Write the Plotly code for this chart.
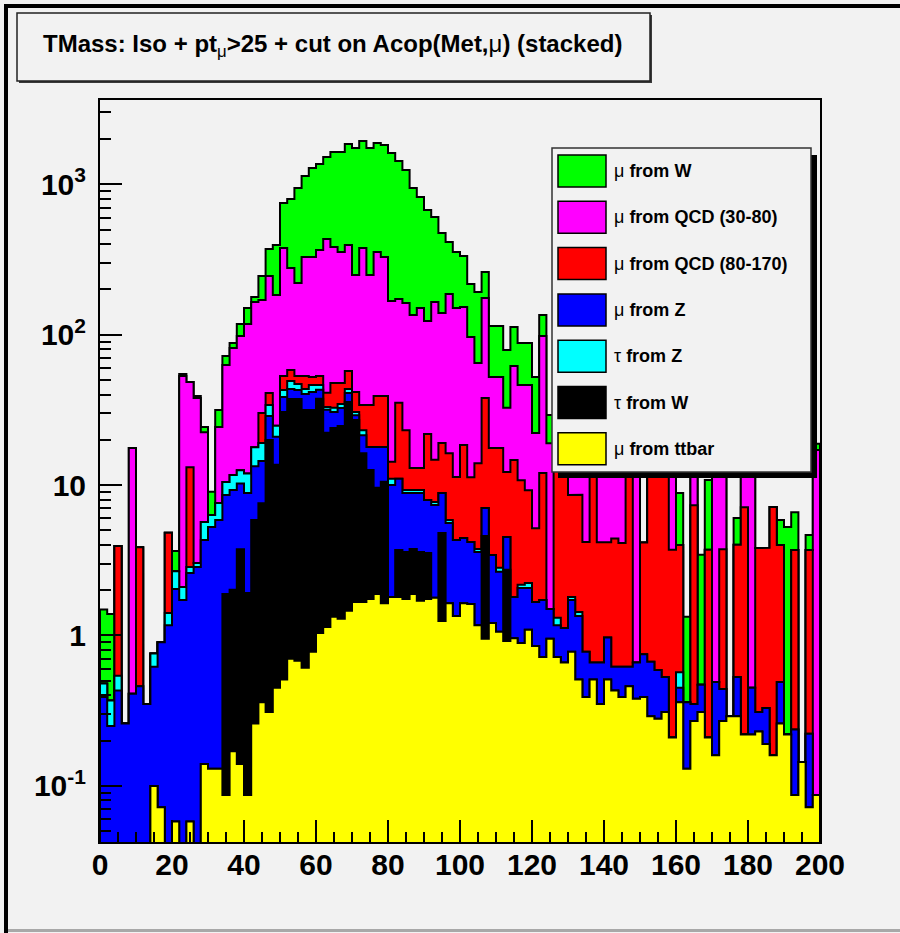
import numpy as np
import plotly.graph_objects as go

# ---------------------------------------------------------------------------
# Transverse mass histograms, 100 bins of width 2 between 0 and 200
# ---------------------------------------------------------------------------
bin_edges = np.arange(0, 202, 2)

mu_from_ttbar = [
    0, 0, 0, 0, 0, 0, 0, 0.10, 0.072, 0,
    0.058, 0, 0.058, 0, 0.14, 0.13, 0.13, 0.087, 0.17, 0.14,
    0.087, 0.26, 0.36, 0.31, 0.45, 0.51, 0.70, 0.68, 0.61, 0.78,
    1.04, 1.14, 1.33, 1.29, 1.46, 1.67, 1.67, 1.75, 1.89, 1.64,
    1.80, 1.80, 1.75, 1.89, 1.70, 1.75, 1.78, 1.25, 1.64, 1.35,
    1.64, 1.62, 1.17, 0.95, 1.21, 1.06, 0.92, 0.96, 0.89, 1.09,
    0.85, 0.72, 0.95, 0.72, 0.66, 0.78, 0.51, 0.39, 0.51, 0.35,
    0.51, 0.43, 0.39, 0.46, 0.38, 0.39, 0.29, 0.28, 0.31, 0.21,
    0.36, 0.13, 0.27, 0.31, 0.21, 0.16, 0.27, 0.29, 0.29, 0.22,
    0.22, 0.23, 0.19, 0.16, 0.26, 0.22, 0.087, 0.144, 0.072, 0.087,
]
tau_from_w = [
    0, 0, 0, 0, 0, 0, 0, 0, 0, 0,
    0, 0, 0, 0, 0, 0, 0, 1.80, 1.84, 3.6,
    1.83, 5.6, 7.2, 19.6, 13.2, 30.1, 36.7, 36.7, 31.0, 30.8,
    36.4, 21.1, 22.6, 23.4, 34.2, 25.4, 14.6, 10.85, 7.7, 8.9,
    0, 1.9, 1.84, 1.87, 1.89, 1.79, 0, 3.55, 0, 0,
    0, 0, 0, 3.64, 0, 0, 1.81, 0, 0, 0,
    0, 0, 0, 0, 0, 0, 0, 0, 0, 0,
    0, 0, 0, 0, 0, 0, 0, 0, 0, 0,
    0, 0, 0, 0, 0, 0, 0, 0, 0, 0,
    0, 0, 0, 0, 0, 0, 0, 0, 0, 0,
]
mu_from_z = [
    0.39, 0.25, 0.43, 0.26, 0.41, 0.46, 0.35, 0.52, 0.83, 1.17,
    1.98, 1.72, 2.54, 2.85, 4.17, 5.14, 5.73, 6.7, 7.26, 6.5,
    6.94, 7.5, 6.9, 8.9, 7.3, 7.9, 6.1, 5.5, 8.7, 10.0,
    5.5, 9.4, 6.7, 7.9, 5.3, 2.1, 5.2, 5.3, 8.3, 7.4,
    8.2, 7.3, 5.27, 5.1, 5.27, 4.42, 5.6, 4.06, 3.96, 2.96,
    2.81, 2.57, 2.42, 2.45, 2.22, 1.59, 1.79, 0.84, 1.18, 0.98,
    0.82, 1.0, 0.55, 0.45, 0.46, 0.94, 0.84, 0.39, 0.15, 0.31,
    0.46, 0.19, 0.23, 0.16, 0.28, 0.36, 0.38, 0.31, 0.22, 0,
    0.09, 0.23, 0.08, 0.16, 0, 0.33, 0.17, 0, 0.24, 0,
    0.23, 0.08, 0.14, 0, 0.23, 0, 0.15, 0, 0.15, 0,
]
tau_from_z = [
    0.09, 0.12, 0.11, 0, 0, 0, 0, 0.14, 0, 0.24,
    0.64, 0.38, 0.25, 0.18, 1.37, 1.06, 1.74, 1.9, 2.4, 2.3,
    3.1, 4.5, 4.6, 5.3, 3.8, 4.4, 5.7, 4.1, 3.2, 4.7,
    3.4, 1.4, 2.0, 2.0, 2.5, 1.4, 1.7, 0, 0, 0,
    1.0, 0, 0.41, 0.41, 0.41, 0, 0.34, 0, 0.26, 0,
    0, 0, 0.17, 0, 0, 0.17, 0, 0, 0.10, 0.16,
    0, 0, 0, 0.14, 0, 0.08, 0.08, 0, 0, 0,
    0, 0, 0, 0, 0, 0, 0, 0, 0, 0,
    0.12, 0, 0, 0, 0, 0, 0, 0, 0, 0,
    0, 0, 0, 0, 0, 0, 0, 0, 0, 0,
]
mu_from_qcd_80_170 = [
    0, 0, 3.4, 0, 0, 3.4, 0, 0, 0, 3.4,
    0, 0, 10.3, 0, 0, 0, 0, 0, 0, 0,
    0, 0, 11.1, 6.9, 0, 10.2, 9.0, 6.1, 9.6, 6.0,
    6.8, 8.0, 15.1, 13.1, 13.9, 11.0, 10.9, 16.2, 21.2, 21.2,
    3.3, 24.2, 13.9, 3.7, 3.7, 13.9, 7.0, 10.2, 10.4, 7.0,
    14.05, 7.1, 10.2, 30.9, 14.2, 14.8, 7.7, 12.9, 8.6, 7.0,
    3.5, 10.3, 0, 13.4, 14.7, 6.8, 7.2, 3.4, 12.9, 3.5,
    3.2, 3.8, 3.5, 12.0, 0, 3.4, 11.9, 12.0, 12.1, 3.5,
    3.43, 0, 7.0, 0, 3.5, 0, 3.3, 0, 3.48, 6.9,
    0, 3.5, 3.5, 7.0, 3.5, 0, 3.47, 0, 3.48, 0,
]
mu_from_qcd_30_80 = [
    0, 0, 0, 0, 17.2, 0, 0, 0, 0, 0,
    0, 51.0, 35.3, 34.9, 16.8, 0, 16.7, 52.4, 69.9, 85.4,
    105.8, 147.0, 140.0, 204.5, 159.0, 324.0, 219.0, 167.5, 275.0, 276.0,
    312.5, 391.7, 335.0, 307.0, 337.0, 208.0, 343.0, 215.4, 315.7, 289.4,
    153.0, 137.6, 139.3, 122.2, 137.5, 101.4, 150.2, 120.4, 170.2, 139.2,
    134.3, 85.2, 50.9, 137.5, 34.7, 34.7, 20.4, 47.2, 35.5, 37.0,
    17.0, 86.0, 17.5, 12.4, 13.4, 18.5, 14.6, 15.8, 1.1, 15.8,
    13.0, 12.6, 11.7, 1.0, 19.3, 0, 2.1, 1.0, 1.0, 11.0,
    0, 0, 7.3, 0, 0, 14.2, 11.0, 0, 0, 7.6,
    14.3, 0, 0, 0, 0, 0, 0, 0, 0, 17.0,
]
mu_from_w = [
    1.01, 1.02, 0, 0, 0, 0, 0, 0, 0, 0,
    0.97, 1.7, 0, 1.2, 1.8, 2.7, 7.3, 9.3, 6.5, 19.8,
    32.7, 13.2, 75.0, 126.0, 211.0, 374.0, 521.0, 723.0, 807.0, 955.0,
    999.0, 1085.0, 1258.0, 1286.0, 1459.0, 1492.0, 1564.0, 1492.0, 1527.0, 1495.0,
    1448.0, 1256.0, 1082.0, 809.0, 673.0, 552.0, 441.0, 335.0, 226.5, 204.0,
    180.8, 120.8, 127.4, 85.8, 61.9, 61.9, 46.5, 50.6, 41.8, 41.8,
    30.1, 37.2, 10.2, 12.6, 17.1, 22.9, 19.7, 16.8, 16.9, 16.9,
    14.5, 10.0, 11.3, 9.6, 7.2, 0, 5.25, 6.35, 4.9, 3.8,
    4.86, 0.97, 2.4, 2.97, 7.1, 2.4, 2.4, 0, 2.04, 2.4,
    2.4, 0, 0, 0, 1.86, 5.05, 2.9, 0, 0.96, 1.7,
]

# stack order from the bottom up: (label, contents, fill colour)
stack_bottom_up = [
    ("μ from ttbar", mu_from_ttbar, "#ffff00"),
    ("τ from W", tau_from_w, "#000000"),
    ("μ from Z", mu_from_z, "#0000ff"),
    ("τ from Z", tau_from_z, "#00ffff"),
    ("μ from QCD (80-170)", mu_from_qcd_80_170, "#ff0000"),
    ("μ from QCD (30-80)", mu_from_qcd_30_80, "#ff00ff"),
    ("μ from W", mu_from_w, "#00ff00"),
]
# legend listing, top to bottom
legend_order = ["μ from W", "μ from QCD (30-80)", "μ from QCD (80-170)",
                "μ from Z", "τ from Z", "τ from W", "μ from ttbar"]

BG = "#f2f2f2"
FONT = "Liberation Sans"
FLOOR = 1e-4          # empty bins drop below the visible range of the log axis

cumulative = np.cumsum(np.array([s[1] for s in stack_bottom_up], dtype=float), axis=0)


def step_outline(values):
    """Closed polygon of a histogram drawn as a filled step curve."""
    xs, ys = [bin_edges[0]], [FLOOR]
    for i, v in enumerate(values):
        h = v if v > 0 else FLOOR
        xs += [bin_edges[i], bin_edges[i + 1]]
        ys += [h, h]
    xs.append(bin_edges[-1])
    ys.append(FLOOR)
    return xs, ys


fig = go.Figure()
# THStack style: the running sums are painted from the total downwards
for k in reversed(range(len(stack_bottom_up))):
    name, _, colour = stack_bottom_up[k]
    xs, ys = step_outline(cumulative[k])
    fig.add_trace(go.Scatter(
        x=xs, y=ys, mode="lines", fill="toself", fillcolor=colour,
        line=dict(color="black", width=2), name=name, hoverinfo="skip",
    ))

# ---------------------------------------------------------------------------
# Canvas geometry
# ---------------------------------------------------------------------------
W, H = 900, 933
ML, MR, MT, MB = 100, 80, 100, 91


def px(x):
    return (x - ML) / (W - ML - MR)


def py(y):
    return (H - MB - y) / (H - MT - MB)


def rect(x0, y0, x1, y1, fill, line_color=None, line_width=0):
    return dict(type="rect", xref="paper", yref="paper",
                x0=px(x0), x1=px(x1), y0=py(y1), y1=py(y0),
                fillcolor=fill, layer="above",
                line=dict(color=line_color or fill, width=line_width))


shapes = [
    # sunken canvas border
    rect(4, 4, 900, 8, "black"),
    rect(4, 4, 8, 933, "black"),
    rect(8, 929, 900, 932, "#a8a8a8"),
    # title box with its shadow
    rect(19, 15, 652, 83, "#3a3a3a"),
    rect(17, 13, 650, 81, BG, "#222222", 1.5),
    # legend with its shadow
    rect(558, 155, 817, 478, "black"),
    rect(552, 148, 811, 472, BG, "#333333", 1.5),
]

annotations = [dict(
    text=("<b>TMass: Iso + pt</b><sub>μ</sub><b>>25 + cut on Acop(Met,</b>μ"
          "<b>) (stacked)</b>"),
    x=px(332), y=py(45), xref="paper", yref="paper", showarrow=False,
    xanchor="center", yanchor="middle",
    font=dict(family=FONT, size=24, color="black"),
)]

colour_of = {name: colour for name, _, colour in stack_bottom_up}
row_pitch = 46.3
for r, name in enumerate(legend_order):
    top = 155 + r * row_pitch
    shapes.append(rect(558, top, 606, top + 32, colour_of[name], "black", 1.5))
    symbol, rest = name.split(" ", 1)
    annotations.append(dict(
        text=f"{symbol} <b>{rest}</b>",
        x=px(612), y=py(top + 16), xref="paper", yref="paper", showarrow=False,
        xanchor="left", yanchor="middle",
        font=dict(family=FONT, size=18, color="black"),
    ))

tick_font = dict(family=FONT, size=30, color="black", weight="bold")
minor_y = [m * 10.0 ** e for e in range(-2, 4) for m in range(2, 10)]

fig.update_layout(
    width=W, height=H,
    margin=dict(l=ML, r=MR, t=MT, b=MB, pad=0),
    paper_bgcolor=BG, plot_bgcolor=BG,
    showlegend=False,
    shapes=shapes, annotations=annotations,
    xaxis=dict(
        range=[0, 200], tickvals=list(range(0, 201, 20)),
        ticks="inside", ticklen=22, tickwidth=1.5, tickcolor="black",
        minor=dict(ticks="inside", ticklen=10, dtick=5, tickwidth=1.5,
                   tickcolor="black", showgrid=False),
        showline=True, linecolor="black", linewidth=2, mirror=True,
        showgrid=False, zeroline=False, tickfont=tick_font,
        ticklabelstandoff=-5,
    ),
    yaxis=dict(
        type="log", range=[-1.373, 3.560],
        tickvals=[0.1, 1, 10, 100, 1000],
        ticktext=["10<sup>-1</sup>", "1", "10", "10<sup>2</sup>", "10<sup>3</sup>"],
        ticks="inside", ticklen=22, tickwidth=1.5, tickcolor="black",
        minor=dict(ticks="inside", ticklen=11, tickvals=minor_y, tickwidth=1.5,
                   tickcolor="black", showgrid=False),
        showline=True, linecolor="black", linewidth=2, mirror=True,
        showgrid=False, zeroline=False, tickfont=tick_font,
        ticklabelstandoff=6,
    ),
)

fig.write_html("out.html")
